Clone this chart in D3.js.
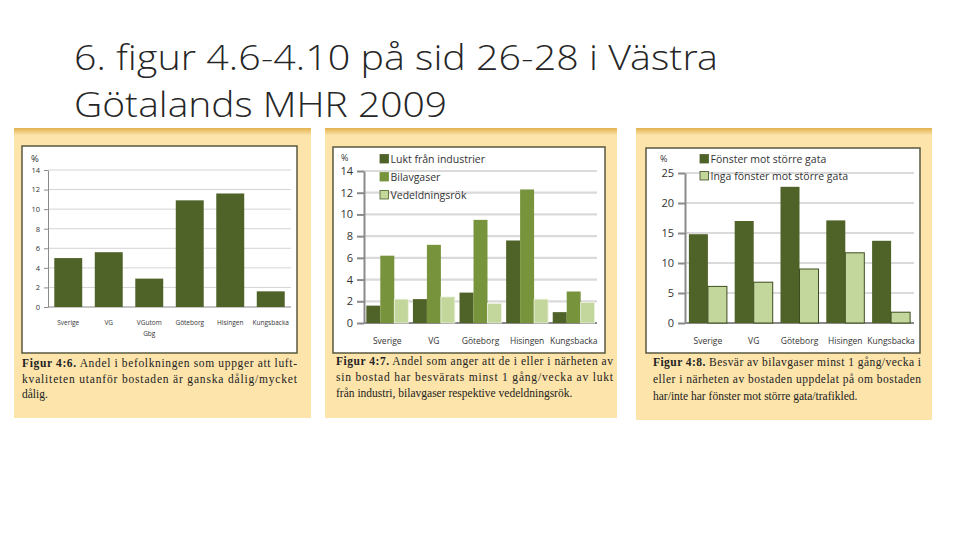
<!DOCTYPE html>
<html>
<head>
<meta charset="utf-8">
<script src="https://cdn.jsdelivr.net/npm/d3@7"></script>
<style>
  body { margin: 0; background: #fff; }
  svg { display: block; }
</style>
</head>
<body>
<svg id="vis" width="960" height="540"></svg>
<script>
// data
const p1Categories = ['Sverige', 'VG', 'VGutom Gbg', 'Göteborg', 'Hisingen', 'Kungsbacka']
const p1Values = [5.0, 5.6, 2.9, 10.9, 11.6, 1.6]
const p1Ticks = [0, 2, 4, 6, 8, 10, 12, 14]

const p2Categories = ['Sverige', 'VG', 'Göteborg', 'Hisingen', 'Kungsbacka']
const p2Series = ['Lukt från industrier', 'Bilavgaser', 'Vedeldningsrök']
const p2Lukt = [1.6, 2.2, 2.8, 7.6, 1.0]
const p2Bil = [6.2, 7.2, 9.5, 12.3, 2.9]
const p2Ved = [2.2, 2.4, 1.8, 2.2, 1.9]
const p2Ticks = [0, 2, 4, 6, 8, 10, 12, 14]

const p3Categories = ['Sverige', 'VG', 'Göteborg', 'Hisingen', 'Kungsbacka']
const p3Series = ['Fönster mot större gata', 'Inga fönster mot större gata']
const p3Fonster = [14.8, 17.0, 22.7, 17.1, 13.7]
const p3Inga = [6.1, 6.8, 9.0, 11.7, 1.8]
const p3Ticks = [0, 5, 10, 15, 20, 25]

const titleLines = ['6. figur 4.6-4.10 på sid 26-28 i Västra', 'Götalands MHR 2009']

const captions = [
  [['Figur 4:6.', ' Andel i befolkningen som uppger att luft-'], ['', 'kvaliteten utanför bostaden är ganska dålig/mycket'], ['', 'dålig.']],
  [['Figur 4:7.', ' Andel som anger att de i eller i närheten av'], ['', 'sin bostad har besvärats minst 1 gång/vecka av lukt'], ['', 'från industri, bilavgaser respektive vedeldningsrök.']],
  [['Figur 4:8.', ' Besvär av bilavgaser minst 1 gång/vecka i'], ['', 'eller i närheten av bostaden uppdelat på om bostaden'], ['', 'har/inte har fönster mot större gata/trafikled.']]
]

const dark = '#4f6228', mid = '#77933c', light = '#c3d69b'

const svg = d3.select('#vis')

// title
svg.selectAll('.title')
  .data(titleLines)
  .enter().append('text')
  .attr('class', 'title')
  .attr('x', 74)
  .attr('y', (d, i) => 70 + i * 47)
  .attr('textLength', (d, i) => i === 0 ? 644 : 373)
  .attr('lengthAdjust', 'spacingAndGlyphs')
  .style('font-family', '"Open Sans Light", "Open Sans", sans-serif')
  .style('font-weight', 300)
  .style('font-size', '34px')
  .style('fill', '#262626')
  .text(d => d)

const defs = svg.append('defs')
const grad = defs.append('linearGradient').attr('id', 'strip').attr('x1', 0).attr('x2', 0).attr('y1', 0).attr('y2', 1)
grad.append('stop').attr('offset', '0%').attr('stop-color', '#e3b14c')
grad.append('stop').attr('offset', '100%').attr('stop-color', '#fbe2a8')

function drawFrame(f, cap) {
  svg.append('rect').attr('x', f.x0).attr('y', f.y0).attr('width', f.x1 - f.x0).attr('height', f.y1 - f.y0)
    .attr('fill', '#fce4ab')
  svg.append('rect').attr('x', f.x0).attr('y', f.y0).attr('width', f.x1 - f.x0).attr('height', 7)
    .attr('fill', 'url(#strip)')
  svg.append('rect').attr('x', f.bx0).attr('y', f.by0).attr('width', f.bx1 - f.bx0).attr('height', f.by1 - f.by0)
    .attr('fill', '#fff').attr('stroke', '#585840').attr('stroke-width', 1.5)

  // caption, justified except last line
  cap.forEach((line, i) => {
    const t = svg.append('text')
      .attr('x', f.cx0)
      .attr('y', f.cy + i * f.cdy)
      .style('font-family', 'Liberation Serif, serif')
      .style('font-size', '11.5px')
      .style('fill', '#222')
    if (i < cap.length - 1) t.attr('textLength', f.cx1 - f.cx0).attr('lengthAdjust', 'spacing')
    if (line[0]) t.append('tspan').style('font-weight', 'bold').text(line[0])
    t.append('tspan').text(line[1])
  })
}

function drawAxes(g, x, y, ticks, o) {
  // gridlines
  g.selectAll('.grid')
    .data(ticks.filter(t => t > 0))
    .enter().append('line')
    .attr('x1', o.left).attr('x2', o.right)
    .attr('y1', d => y(d)).attr('y2', d => y(d))
    .attr('stroke', o.gridColor).attr('stroke-width', o.gridWidth)

  const ax = g.append('g')
    .attr('transform', `translate(${o.left},0)`)
    .call(d3.axisLeft(y).tickValues(ticks).tickSize(o.tickSize).tickSizeOuter(0).tickPadding(o.tickPad))
  ax.select('.domain').attr('stroke', '#8a8a8a').attr('stroke-width', o.axisWidth)
  ax.selectAll('.tick line').attr('stroke', '#8a8a8a').attr('stroke-width', o.axisWidth)
  ax.selectAll('.tick text')
    .style('font-family', 'Open Sans, sans-serif')
    .style('font-size', o.tickFont)
    .style('fill', '#333')

  // base line
  g.append('line')
    .attr('x1', o.left).attr('x2', o.right)
    .attr('y1', y(0)).attr('y2', y(0))
    .attr('stroke', '#8a8a8a').attr('stroke-width', o.axisWidth)

  g.append('text')
    .attr('x', o.pctX).attr('y', o.pctY)
    .style('font-family', 'Open Sans, sans-serif')
    .style('font-size', o.pctFont)
    .style('fill', '#333')
    .text('%')

  // category labels
  g.selectAll('.cat')
    .data(x.domain())
    .enter().append('text')
    .attr('text-anchor', 'middle')
    .attr('x', d => x(d) + x.bandwidth() / 2)
    .attr('y', o.catY)
    .style('font-family', 'Open Sans, sans-serif')
    .style('font-size', o.catFont)
    .style('fill', '#333')
    .each(function (d) {
      const parts = d.split(' ')
      parts.forEach((p, i) => {
        d3.select(this).append('tspan')
          .attr('x', x(d) + x.bandwidth() / 2)
          .attr('dy', i === 0 ? 0 : o.catFontLine)
          .text(p)
      })
    })
}

function drawLegend(g, names, colors, strokes, o) {
  const items = g.selectAll('.leg')
    .data(names)
    .enter().append('g')
    .attr('transform', (d, i) => `translate(${o.x},${o.y + i * o.dy})`)
  items.append('rect')
    .attr('x', 0).attr('y', -4.5).attr('width', 8.5).attr('height', 8.5)
    .attr('fill', (d, i) => colors[i])
    .attr('stroke', (d, i) => strokes[i]).attr('stroke-width', 0.8)
  items.append('text')
    .attr('x', 10.5).attr('y', 4)
    .style('font-family', 'Open Sans, sans-serif')
    .style('font-size', '10.5px')
    .style('fill', '#333')
    .text(d => d)
}

// ---------- panel 1 ----------
drawFrame({x0: 14, x1: 311, y0: 128, y1: 418, bx0: 22, bx1: 297, by0: 146, by1: 353,
  cx0: 22, cx1: 297, cy: 367, cdy: 15.7}, captions[0])

const g1 = svg.append('g')
const x1 = d3.scaleBand().domain(p1Categories).range([48, 291]).paddingInner(0.31).paddingOuter(0.155)
const y1 = d3.scaleLinear().domain([0, 14]).range([307, 170])
drawAxes(g1, x1, y1, p1Ticks, {left: 48, right: 291, gridColor: '#d4d4d4', gridWidth: 1, axisWidth: 1,
  tickSize: 4, tickPad: 4, tickFont: '7.5px', pctX: 31, pctY: 162, pctFont: '9.5px',
  catY: 325, catFont: '6.5px', catFontLine: 11})
g1.selectAll('.bar')
  .data(p1Values)
  .enter().append('rect')
  .attr('x', (d, i) => x1(p1Categories[i]))
  .attr('y', d => y1(d))
  .attr('width', x1.bandwidth())
  .attr('height', d => y1(0) - y1(d))
  .attr('fill', dark)

// ---------- panel 2 ----------
drawFrame({x0: 325, x1: 617, y0: 128, y1: 418, bx0: 333, bx1: 605, by0: 147, by1: 353,
  cx0: 336, cx1: 613, cy: 365, cdy: 16}, captions[1])

const g2 = svg.append('g')
const x2 = d3.scaleBand().domain(p2Categories).range([364, 597]).paddingInner(0.1).paddingOuter(0.05)
const s2 = d3.scaleBand().domain(p2Series).range([0, x2.bandwidth()])
const y2 = d3.scaleLinear().domain([0, 14]).range([323, 171])
drawAxes(g2, x2, y2, p2Ticks, {left: 364, right: 597, gridColor: '#dadada', gridWidth: 2.2, axisWidth: 2,
  tickSize: 7, tickPad: 4, tickFont: '11px', pctX: 341, pctY: 161, pctFont: '9px',
  catY: 344, catFont: '8.5px', catFontLine: 11})
const p2Data = [p2Lukt, p2Bil, p2Ved]
const p2Colors = [dark, mid, light]
p2Data.forEach((vals, k) => {
  g2.selectAll('.bar' + k)
    .data(vals)
    .enter().append('rect')
    .attr('x', (d, i) => x2(p2Categories[i]) + s2(p2Series[k]))
    .attr('y', d => y2(d))
    .attr('width', s2.bandwidth())
    .attr('height', d => y2(0) - y2(d))
    .attr('fill', p2Colors[k])
    .attr('stroke', k === 2 ? '#eef3e2' : 'none').attr('stroke-width', 0.8)
})
drawLegend(g2, p2Series, p2Colors, [dark, mid, dark], {x: 380, y: 159, dy: 18})

// ---------- panel 3 ----------
drawFrame({x0: 636, x1: 932, y0: 128, y1: 420, bx0: 646, bx1: 920, by0: 148, by1: 353,
  cx0: 653, cx1: 921, cy: 366, cdy: 17}, captions[2])

const g3 = svg.append('g')
const x3 = d3.scaleBand().domain(p3Categories).range([685, 914]).paddingInner(0.17).paddingOuter(0.085)
const s3 = d3.scaleBand().domain(p3Series).range([0, x3.bandwidth()])
const y3 = d3.scaleLinear().domain([0, 25]).range([323, 173])
drawAxes(g3, x3, y3, p3Ticks, {left: 685, right: 914, gridColor: '#dadada', gridWidth: 2.2, axisWidth: 2,
  tickSize: 7, tickPad: 4, tickFont: '11px', pctX: 660, pctY: 162, pctFont: '9px',
  catY: 344, catFont: '8.5px', catFontLine: 11})
const p3Data = [p3Fonster, p3Inga]
const p3Colors = [dark, light]
p3Data.forEach((vals, k) => {
  g3.selectAll('.bar' + k)
    .data(vals)
    .enter().append('rect')
    .attr('x', (d, i) => x3(p3Categories[i]) + s3(p3Series[k]))
    .attr('y', d => y3(d))
    .attr('width', s3.bandwidth())
    .attr('height', d => y3(0) - y3(d))
    .attr('fill', p3Colors[k])
    .attr('stroke', k === 1 ? '#3e4e1e' : 'none').attr('stroke-width', 1)
})
drawLegend(g3, p3Series, p3Colors, [dark, '#3e4e1e'], {x: 700, y: 159, dy: 17})
</script>
</body>
</html>
